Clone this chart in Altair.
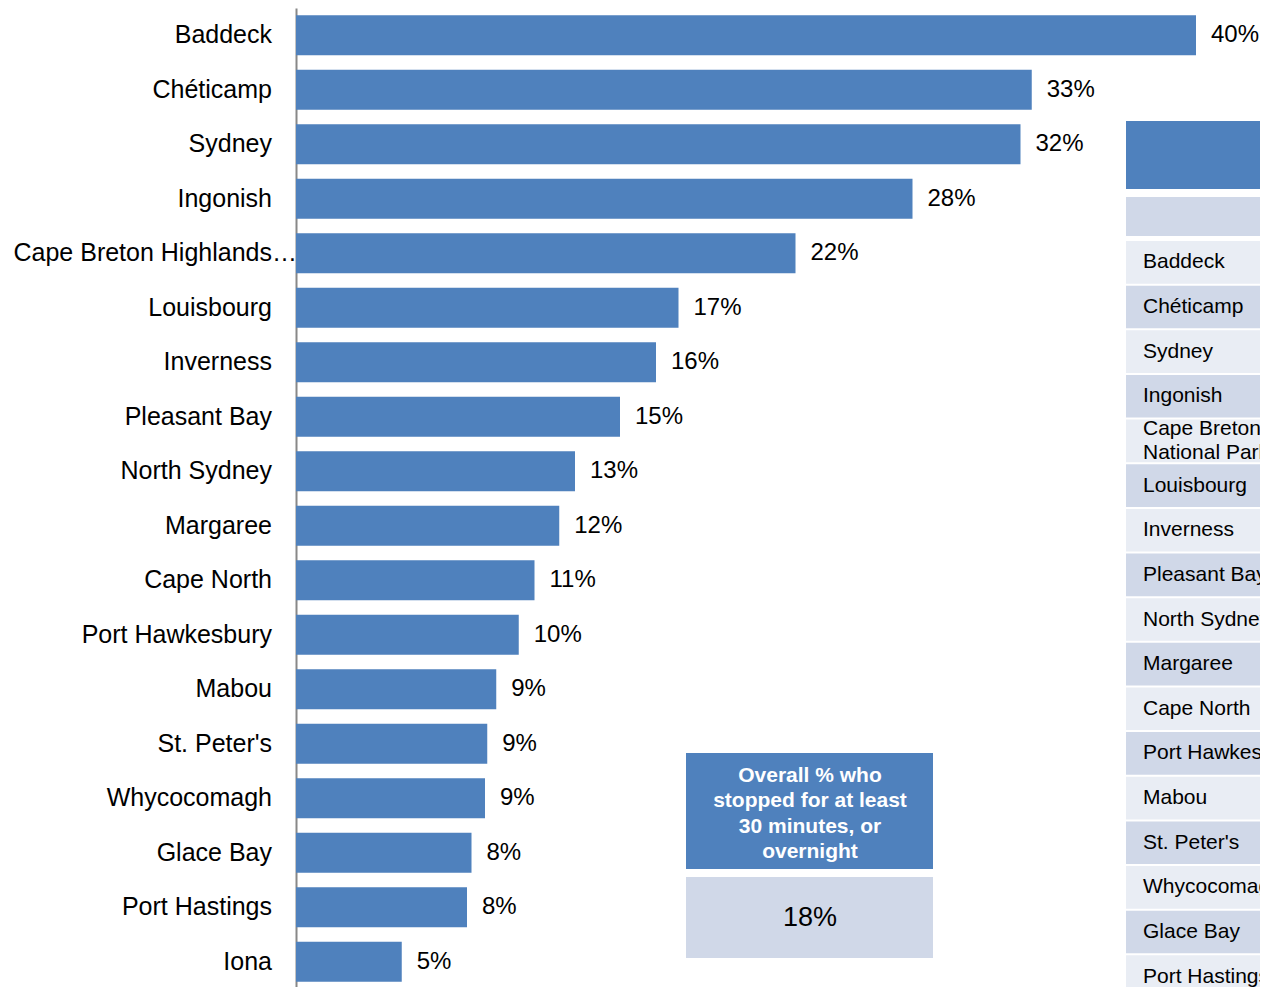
import altair as alt
import pandas as pd

# ---------------- data ----------------
categories = [
    "Baddeck", "Chéticamp", "Sydney", "Ingonish",
    "Cape Breton Highlands National Park", "Louisbourg", "Inverness",
    "Pleasant Bay", "North Sydney", "Margaree", "Cape North",
    "Port Hawkesbury", "Mabou", "St. Peter's", "Whycocomagh",
    "Glace Bay", "Port Hastings", "Iona",
]
values = [40.0, 32.7, 32.2, 27.4, 22.2, 17.0, 16.0, 14.4, 12.4, 11.7,
          10.6, 9.9, 8.9, 8.5, 8.4, 7.8, 7.6, 4.7]
value_labels = ["40%", "33%", "32%", "28%", "22%", "17%", "16%", "15%", "13%",
                "12%", "11%", "10%", "9%", "9%", "9%", "8%", "8%", "5%"]

overall_title = ["Overall % who", "stopped for at least", "30 minutes, or", "overnight"]
overall_value = "18%"

table_rows = [
    "Baddeck", "Chéticamp", "Sydney", "Ingonish", "Cape Breton\nNational Park",
    "Louisbourg", "Inverness", "Pleasant Bay", "North Sydney", "Margaree",
    "Cape North", "Port Hawkesbury", "Mabou", "St. Peter's", "Whycocomagh",
    "Glace Bay", "Port Hastings",
]

# ---------------- layout / style ----------------
FONT = "Liberation Sans"
BLUE = "#4F81BD"
MID = "#D0D8E8"
LIGHT = "#E9EDF4"
W = 964
H = 979
PX_PER_PCT = 22.5
LONG_LABEL = "Cape Breton Highlands National Park"

df = pd.DataFrame({"cat": categories, "val": values, "lab": value_labels})

y_enc = alt.Y(
    "cat:N",
    sort=categories,
    scale=alt.Scale(domain=categories, range=[0, 981], paddingInner=0.266, paddingOuter=0.133),
    axis=alt.Axis(labels=False, ticks=False, title=None, grid=False,
                  domainColor="#888888", domainWidth=2),
)
x_enc = alt.X("val:Q", scale=alt.Scale(domain=[0, W / PX_PER_PCT], nice=False, zero=True), axis=None)

base = alt.Chart(df)
bars = base.mark_bar(color=BLUE).encode(x=x_enc, y=y_enc)
vlabels = base.mark_text(align="left", baseline="middle", dx=15, fontSize=24,
                         font=FONT, color="black").encode(x=x_enc, y=y_enc, text="lab:N")

ylabels = base.transform_filter(alt.datum.cat != LONG_LABEL).mark_text(
    align="right", baseline="middle", fontSize=25, font=FONT, color="black"
).encode(x=alt.value(-24), y=y_enc, text="cat:N")

ylabel_long = base.transform_filter(alt.datum.cat == LONG_LABEL).mark_text(
    align="right", baseline="middle", fontSize=25, font=FONT, color="black", limit=286
).encode(x=alt.value(1), y=y_enc, text="cat:N")

bar_layer = alt.layer(bars, vlabels, ylabels, ylabel_long)

# ---------------- overall box ----------------
one = pd.DataFrame({"t": ["\n".join(overall_title)], "v": [overall_value]})
box_head = alt.Chart(one).mark_rect(color=BLUE).encode(
    x=alt.value(390), x2=alt.value(637), y=alt.value(745), y2=alt.value(861))
box_val = alt.Chart(one).mark_rect(color=MID).encode(
    x=alt.value(390), x2=alt.value(637), y=alt.value(869), y2=alt.value(950))
box_text = alt.Chart(one).mark_text(
    align="center", baseline="middle", lineBreak="\n", lineHeight=25.3,
    fontSize=21, fontWeight="bold", font=FONT, color="white"
).encode(x=alt.value(514), y=alt.value(768), text="t:N")
box_vtext = alt.Chart(one).mark_text(
    align="center", baseline="middle", fontSize=27, font=FONT, color="black"
).encode(x=alt.value(514), y=alt.value(910), text="v:N")

# ---------------- cut-off table ----------------
tdf = pd.DataFrame({"row": table_rows})
ty = alt.Y("row:N", sort=table_rows,
           scale=alt.Scale(domain=table_rows, range=[233, 990], paddingInner=0.045, paddingOuter=0),
           axis=None)
tbase = alt.Chart(tdf).transform_window(idx="row_number()").transform_calculate(
    shade="datum.idx % 2 == 1 ? 'light' : 'mid'")
t_rect = tbase.mark_rect().encode(
    x=alt.value(830), x2=alt.value(1000), y=ty,
    color=alt.Color("shade:N", scale=alt.Scale(domain=["light", "mid"], range=[LIGHT, MID]), legend=None),
)
t_text1 = tbase.transform_filter("indexof(datum.row, '\\n') < 0").mark_text(
    align="left", baseline="middle", fontSize=21, font=FONT, color="black"
).encode(x=alt.value(847), y=ty, text="row:N")
t_text2 = tbase.transform_filter("indexof(datum.row, '\\n') >= 0").mark_text(
    align="left", baseline="middle", lineBreak="\n", lineHeight=24, dy=-12,
    fontSize=21, font=FONT, color="black"
).encode(x=alt.value(847), y=ty, text="row:N")
t_head = alt.Chart(one).mark_rect(color=BLUE).encode(
    x=alt.value(830), x2=alt.value(1000), y=alt.value(113), y2=alt.value(181))
t_sub = alt.Chart(one).mark_rect(color=MID).encode(
    x=alt.value(830), x2=alt.value(1000), y=alt.value(189), y2=alt.value(228))

table_layer = alt.layer(t_rect, t_text1, t_text2)

chart = alt.layer(
    bar_layer, box_head, box_val, box_text, box_vtext, t_head, t_sub, table_layer
).resolve_scale(y="independent", color="independent").properties(
    width=W, height=H,
    padding={"left": 288, "top": 0, "right": 0, "bottom": 0},
    autosize=alt.AutoSizeParams(type="none"),
    background="white",
).configure_view(stroke=None)

chart.save("out.html", embed_options={"renderer": "svg", "actions": False})
